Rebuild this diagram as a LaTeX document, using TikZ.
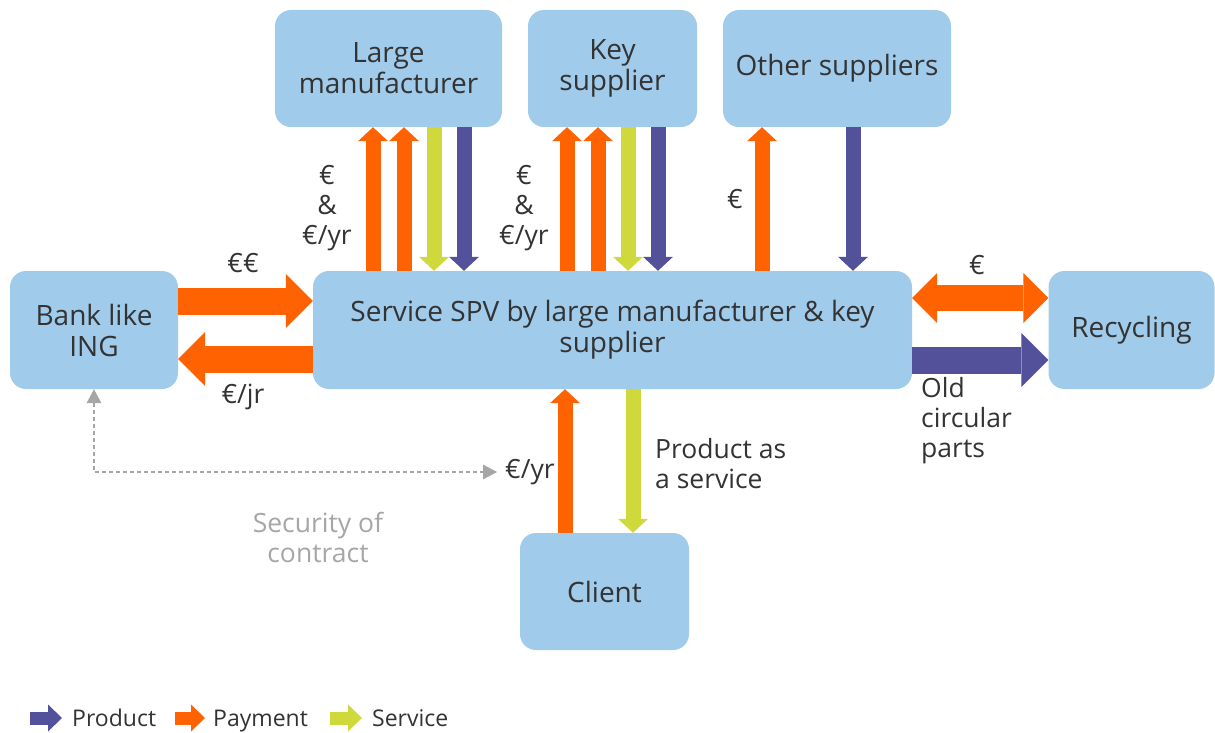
\documentclass[tikz,border=0pt]{standalone}
\usepackage{fontspec}
\setmainfont{Open Sans}
\usetikzlibrary{arrows.meta}
\definecolor{boxblue}{HTML}{A0CBEA}
\definecolor{paycol}{HTML}{FF6200}
\definecolor{prodcol}{HTML}{525199}
\definecolor{servcol}{HTML}{D0D93C}
\definecolor{txtcol}{HTML}{333333}
\definecolor{seccol}{HTML}{A6A6A6}

\begin{document}
\begin{tikzpicture}[x=1pt,y=-1pt,
  box/.style={fill=boxblue, rounded corners=16pt, minimum width=#1, minimum height=117pt,
    align=center, text=txtcol, font=\fontsize{28}{31}\selectfont, inner sep=0pt},
  lbl/.style={text=txtcol, font=\fontsize{26.5}{30}\selectfont, inner sep=0pt},
  keylbl/.style={text=txtcol, font=\fontsize{23}{26}\selectfont, inner sep=0pt, anchor=base west},
  vflow/.style={line width=15pt, -{Triangle[width=30pt,length=14pt,line width=0pt]}},
  hflow/.style={line width=27pt, -{Triangle[width=54pt,length=27pt,line width=0pt]}},
  bflow/.style={line width=26pt, {Triangle[width=50pt,length=25pt,line width=0pt]}-{Triangle[width=50pt,length=25pt,line width=0pt]}},
  keyflow/.style={line width=13pt, -{Triangle[width=27pt,length=14pt,line width=0pt]}},
  secline/.style={seccol, line width=1.3pt, dash pattern=on 4pt off 3pt,
    {Triangle[width=15pt,length=14pt,line width=0pt]}-{Triangle[width=15pt,length=14pt,line width=0pt]}},
]
\useasboundingbox (0,0) rectangle (1215,733);

% parties
\node[box=227pt] (lm)  at (388.5,68.5) {Large\\manufacturer};
\node[box=169pt] (ks)  at (612.5,68.5) {Key\\supplier};
\node[box=228pt] (os)  at (837,68.5)   {Other suppliers};
\node[box=168pt, minimum height=118pt] (bank) at (94,330) {Bank like\\ING};
\node[box=599pt, minimum height=118pt] (spv)  at (612.5,330) {Service SPV by large manufacturer \& key\\supplier};
\node[box=166pt, minimum height=118pt] (rec)  at (1131.5,330) {Recycling};
\node[box=169pt] (cl)  at (604.5,591.5) {Client};

% vertical lanes
\coordinate (lm1) at ([xshift=-15.5pt]lm.south);
\coordinate (lm2) at ([xshift=15.5pt]lm.south);
\coordinate (lm3) at ([xshift=45.5pt]lm.south);
\coordinate (lm4) at ([xshift=75.5pt]lm.south);
\coordinate (ks1) at ([xshift=-45.5pt]ks.south);
\coordinate (ks2) at ([xshift=-14.5pt]ks.south);
\coordinate (ks3) at ([xshift=15.5pt]ks.south);
\coordinate (ks4) at ([xshift=45.5pt]ks.south);
\coordinate (os1) at ([xshift=-75pt]os.south);
\coordinate (os2) at ([xshift=16pt]os.south);
\coordinate (cl1) at ([xshift=-39.5pt]cl.north);
\coordinate (cl2) at ([xshift=28.5pt]cl.north);

% suppliers <-> SPV
\draw[vflow, paycol]  (lm1 |- spv.north) -- (lm1);
\draw[vflow, paycol]  (lm2 |- spv.north) -- (lm2);
\draw[vflow, servcol] (lm3) -- (lm3 |- spv.north);
\draw[vflow, prodcol] (lm4) -- (lm4 |- spv.north);
\draw[vflow, paycol]  (ks1 |- spv.north) -- (ks1);
\draw[vflow, paycol]  (ks2 |- spv.north) -- (ks2);
\draw[vflow, servcol] (ks3) -- (ks3 |- spv.north);
\draw[vflow, prodcol] (ks4) -- (ks4 |- spv.north);
\draw[vflow, paycol]  (os1 |- spv.north) -- (os1);
\draw[vflow, prodcol] (os2) -- (os2 |- spv.north);

% client <-> SPV
\draw[vflow, paycol]  (cl1) -- (cl1 |- spv.south);
\draw[vflow, servcol] (cl2 |- spv.south) -- (cl2);

% bank <-> SPV
\draw[hflow, paycol] ([yshift=29pt]bank.east) -- ([yshift=29pt]bank.east -| spv.west);
\draw[hflow, paycol] ([yshift=-29pt]spv.west) -- ([yshift=-29pt]spv.west -| bank.east);

% SPV <-> recycling
\draw[bflow, paycol] ([yshift=32pt]spv.east) -- ([yshift=32pt]spv.east -| rec.west);
\draw[hflow, prodcol] ([yshift=-30pt]spv.east) -- ([yshift=-30pt]spv.east -| rec.west);

% flow labels
\node[lbl, align=center] at (327,208) {€\\\&\\€/yr};
\node[lbl, align=center] at (524,208) {€\\\&\\€/yr};
\node[lbl] at (735,199) {€};
\node[lbl] at (243,263) {€€};
\node[lbl] at (243,397) {€/jr};
\node[lbl] at (977,265) {€};
\node[lbl, align=left, anchor=west] at (921,421) {Old\\circular\\parts};
\node[lbl, align=left, anchor=west] at (655,464) {Product as\\a service};
\node[lbl, anchor=west] (yr) at (505,472) {€/yr};

% security of contract
\node[lbl, text=seccol, align=center] at (318,537) {Security of\\contract};
\draw[secline] (bank.south) |- ([xshift=-8pt]yr.west);

% key
\node[keylbl] (kp) at (72,726) {Product};
\node[keylbl] (ky) at (213,726) {Payment};
\node[keylbl] (kv) at (372,726) {Service};
\draw[keyflow, prodcol] ([xshift=-42pt,yshift=8pt]kp.base west) -- ([xshift=-10pt,yshift=8pt]kp.base west);
\draw[keyflow, paycol]  ([xshift=-38pt,yshift=8pt]ky.base west) -- ([xshift=-8pt,yshift=8pt]ky.base west);
\draw[keyflow, servcol] ([xshift=-42pt,yshift=8pt]kv.base west) -- ([xshift=-10pt,yshift=8pt]kv.base west);
\end{tikzpicture}
\end{document}
